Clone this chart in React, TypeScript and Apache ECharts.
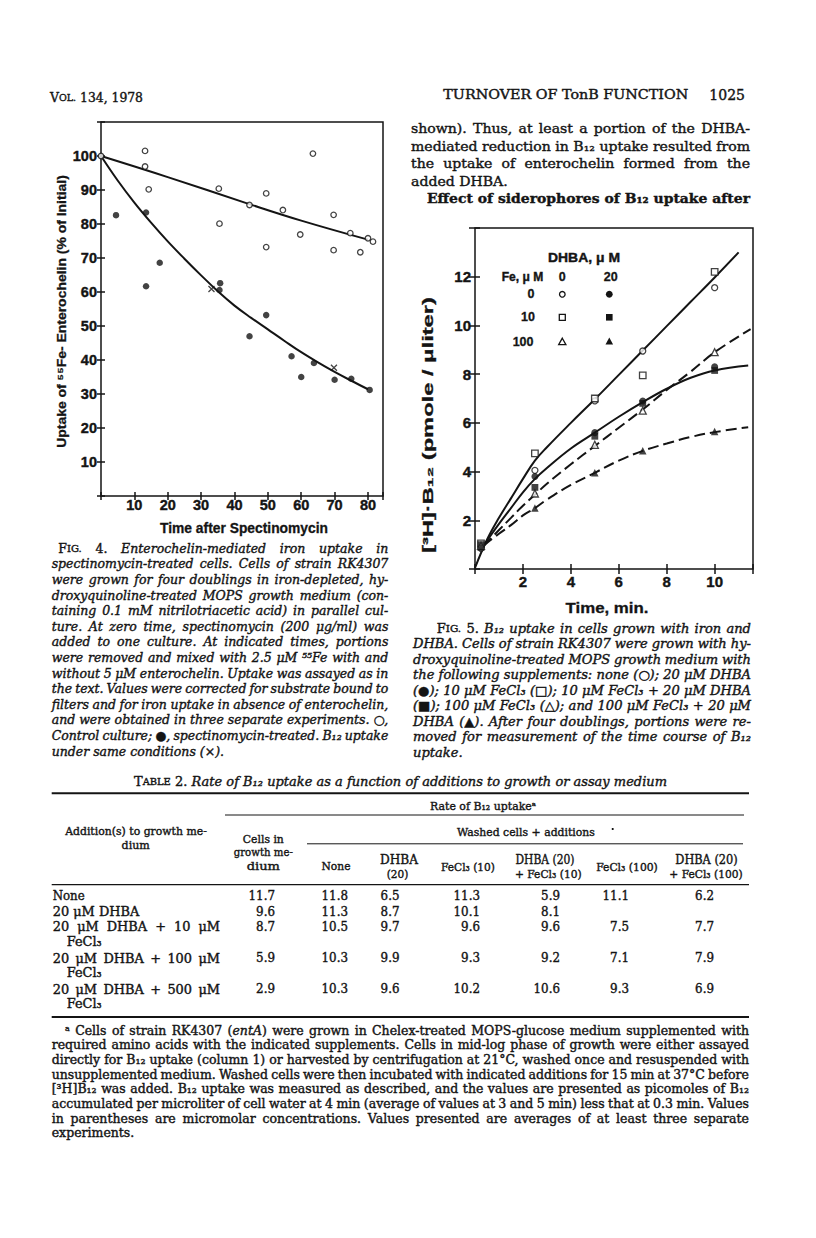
import React, { useEffect, useRef } from "react";
import * as echarts from "echarts";

const INK = "#141414";
const SERIF = "'DejaVu Serif', serif";
const SANS = "'Liberation Sans', Arial, sans-serif";

// ---------------- Fig. 4 data ----------------
const fig4XTicks = [10, 20, 30, 40, 50, 60, 70, 80];
const fig4YTicks = [10, 20, 30, 40, 50, 60, 70, 80, 90, 100];
const fig4ControlPoints = [
  [0, 100], [13.2, 101.5], [13.2, 96.9], [14.3, 90.2], [35.3, 90.4], [35.5, 80.1],
  [44.5, 85.6], [49.5, 89.0], [49.5, 73.2], [54.5, 84.1], [59.7, 76.9], [63.5, 100.7],
  [69.7, 82.7], [69.7, 72.3], [74.7, 77.3], [77.7, 71.7], [80.0, 75.8], [81.5, 74.8],
];
const fig4SpectinomycinPoints = [
  [4.5, 82.6], [13.5, 83.4], [13.5, 61.7], [17.6, 68.6], [35.7, 62.6], [35.5, 60.6],
  [44.5, 47.0], [49.5, 53.2], [57.1, 41.1], [60.0, 35.0], [63.8, 39.1], [70.0, 34.2],
  [75.0, 34.5], [80.5, 31.2],
];
const fig4B12Points = [[33.1, 60.9], [69.8, 37.7]];
const fig4ControlCurve = [[0, 100], [20, 93.8], [44, 86.0], [60, 81.0], [80, 75.4]];
const fig4SpectinomycinCurve = [
  [0, 100], [5, 92.8], [10, 86.3], [15, 80.4], [20, 74.9], [25, 69.8], [30, 64.9],
  [35, 60.2], [40, 56.0], [45, 52.4], [50, 49.0], [55, 45.6], [60, 42.3], [65, 39.3],
  [70, 36.5], [75, 33.9], [80, 31.4],
];

// ---------------- Fig. 5 data ----------------
const fig5XTicks = [2, 4, 6, 8, 10];
const fig5YTicks = [2, 4, 6, 8, 10, 12];
const fig5Times = [0.25, 2.5, 5, 7, 10];
const fig5None = [0.85, 4.05, 6.9, 8.95, 11.55];
const fig5Dhba20 = [0.9, 3.8, 5.6, 6.9, 8.3];
const fig5Fe10 = [1.05, 4.75, 7.0, 7.95, 12.2];
const fig5Fe10Dhba20 = [1.0, 3.35, 5.45, 6.8, 8.15];
const fig5Fe100 = [0.95, 3.1, 5.1, 6.5, 8.9];
const fig5Fe100Dhba20 = [0.9, 2.5, 3.95, 4.85, 5.65];
const fig5CurveNoneFe10 = [
  [0, 0.05], [0.5, 1.2], [1, 2.1], [1.5, 2.9], [2, 3.7], [2.5, 4.45], [3, 5.0], [4, 6.0],
  [5, 6.97], [6, 7.97], [7, 8.97], [8, 9.97], [9, 10.97], [10, 11.97], [11, 13.0],
];
const fig5CurveDhba = [
  [0.35, 0.95], [1, 1.85], [1.5, 2.5], [2, 3.15], [2.5, 3.7], [3, 4.15], [4, 4.95], [5, 5.6],
  [6, 6.25], [7, 6.85], [8, 7.4], [9, 7.85], [10, 8.15], [11.4, 8.35],
];
const fig5CurveFe100 = [
  [0.35, 0.95], [1, 1.6], [1.5, 2.1], [2, 2.6], [2.5, 3.05], [3, 3.5], [4, 4.3], [5, 5.05],
  [6, 5.8], [7, 6.55], [8, 7.35], [9, 8.1], [10, 8.9], [11.5, 9.85],
];
const fig5CurveFe100Dhba = [
  [0.35, 0.95], [1, 1.45], [1.5, 1.8], [2, 2.2], [2.5, 2.5], [3, 2.85], [4, 3.45], [5, 3.95],
  [6, 4.45], [7, 4.85], [8, 5.15], [9, 5.42], [10, 5.62], [11.4, 5.82],
];

// ---------------- Table 2 data ----------------
const tableRowLabels = ["None", "20 μM DHBA", "20 μM DHBA + 10 μM", "20 μM DHBA + 100 μM", "20 μM DHBA + 500 μM"];
const tableCellsInGrowth = ["11.7", "9.6", "8.7", "5.9", "2.9"];
const tableWashedNone = ["11.8", "11.3", "10.5", "10.3", "10.3"];
const tableWashedDhba = ["6.5", "8.7", "9.7", "9.9", "9.6"];
const tableWashedFe10 = ["11.3", "10.1", "9.6", "9.3", "10.2"];
const tableWashedDhbaFe10 = ["5.9", "8.1", "9.6", "9.2", "10.6"];
const tableWashedFe100 = ["11.1", "", "7.5", "7.1", "9.3"];
const tableWashedDhbaFe100 = ["6.2", "", "7.7", "7.9", "6.9"];

// ---------------- text helpers ----------------
type Seg = { t: string; f: string };
const f = (size: number, o: { i?: boolean; b?: boolean; fam?: string } = {}) =>
  `${o.i ? "italic " : ""}${o.b ? "bold " : ""}${size}px ${o.fam ?? SERIF}`;

let _ctx: CanvasRenderingContext2D | null = null;
function tw(text: string, font: string): number {
  if (!_ctx) _ctx = document.createElement("canvas").getContext("2d");
  _ctx!.font = font;
  return _ctx!.measureText(text).width;
}

function txt(text: string, x: number, y: number, font: string, o: { s?: number; align?: string; rot?: number; sw?: number } = {}) {
  const align = o.align ?? "left";
  return {
    type: "text",
    x,
    y,
    rotation: o.rot ?? 0,
    scaleX: o.s ?? 1,
    silent: true,
    z: 100,
    style: {
      text,
      font,
      fill: INK,
      stroke: INK,
      lineWidth: o.sw ?? 0.4,
      textAlign: align,
      textVerticalAlign: "middle",
      align,
      verticalAlign: "middle",
    },
  };
}

function buildWords(segs: Seg[]): Seg[][] {
  const words: Seg[][] = [];
  let cur: Seg[] = [];
  segs.forEach((seg) => {
    seg.t.split(" ").forEach((p, i) => {
      if (i > 0) {
        if (cur.length) words.push(cur);
        cur = [];
      }
      if (p) cur.push({ t: p, f: seg.f });
    });
  });
  if (cur.length) words.push(cur);
  return words;
}

function natWidth(segs: Seg[]): number {
  const words = buildWords(segs);
  const sp = tw(" ", segs[segs.length - 1].f);
  const sum = words.reduce((a, w) => a + w.reduce((b, p) => b + tw(p.t, p.f), 0), 0);
  return sum + sp * (words.length - 1);
}

function layLine(
  segs: Seg[],
  x: number,
  y: number,
  o: { mode: "fit" | "justify" | "natural"; w?: number; s?: number; align?: "left" | "center" | "right" }
) {
  const words = buildWords(segs);
  const ww = words.map((wd) => wd.reduce((a, p) => a + tw(p.t, p.f), 0));
  const sp = tw(" ", segs[segs.length - 1].f);
  const sumW = ww.reduce((a, b) => a + b, 0);
  const nat = sumW + sp * (words.length - 1);
  let s = o.s ?? 1;
  let gap = sp * s;
  if (o.mode === "fit") {
    s = (o.w as number) / nat;
    gap = sp * s;
  } else if (o.mode === "justify" && words.length > 1) {
    const minNat = sumW + sp * 0.6 * (words.length - 1);
    if (minNat * s > (o.w as number)) s = (o.w as number) / minNat;
    gap = ((o.w as number) - sumW * s) / (words.length - 1);
  }
  const total = sumW * s + gap * (words.length - 1);
  let cx = x;
  if (o.align === "center") cx = x - total / 2;
  else if (o.align === "right") cx = x - total;
  const els: any[] = [];
  words.forEach((wd) => {
    wd.forEach((p) => {
      els.push(txt(p.t, cx, y, p.f, { s }));
      cx += tw(p.t, p.f) * s;
    });
    cx += gap;
  });
  return { els, s };
}

function paragraph(lines: Seg[][], x1: number, x: number, right: number, y0: number, dy: number, lastNatural = true, q = 0.4) {
  const ratios: number[] = [];
  lines.forEach((segs, i) => {
    if (lastNatural && i === lines.length - 1) return;
    ratios.push((right - (i === 0 ? x1 : x)) / natWidth(segs));
  });
  ratios.sort((a, b) => a - b);
  const s = ratios.length ? ratios[Math.floor((ratios.length - 1) * q)] : 1;
  const els: any[] = [];
  lines.forEach((segs, i) => {
    const lx = i === 0 ? x1 : x;
    const nat = lastNatural && i === lines.length - 1;
    els.push(...layLine(segs, lx, y0 + i * dy, { mode: nat ? "natural" : "justify", w: right - lx, s }).els);
  });
  return els;
}

function fitText(text: string, cx: number, cy: number, font: string, w: number, rot = 0) {
  return txt(text, cx, cy, font, { s: w / tw(text, font), align: "center", rot, sw: 0.3 });
}

// ---------------- page text ----------------
function buildGraphics() {
  const els: any[] = [];
  const capI = f(12.5, { i: true });
  const capR = f(12.5);
  const capSC = f(10);

  // running heads
  els.push(...layLine([{ t: "V", f: f(13) }, { t: "OL.", f: f(10) }, { t: " 134, 1978", f: f(13) }], 50, 97, { mode: "fit", w: 93 }).els);
  els.push(...layLine([{ t: "TURNOVER OF TonB FUNCTION", f: f(12.5) }], 443.3, 95, { mode: "fit", w: 245 }).els);
  els.push(...layLine([{ t: "1025", f: f(14) }], 709.3, 95, { mode: "fit", w: 35.7 }).els);

  // right column body
  const body = f(13.5);
  els.push(
    ...paragraph(
      [
        [{ t: "shown). Thus, at least a portion of the DHBA-", f: body }],
        [{ t: "mediated reduction in B₁₂ uptake resulted from", f: body }],
        [{ t: "the uptake of enterochelin formed from the", f: body }],
        [{ t: "added DHBA.", f: body }],
      ],
      411, 411, 750, 128.3, 17.5
    )
  );
  els.push(...layLine([{ t: "Effect of siderophores of B₁₂ uptake after", f: f(13.5, { b: true }) }], 427, 198.3, { mode: "fit", w: 323 }).els);

  // Fig. 4 caption
  const fig4Caption: Seg[][] = [
    [{ t: "F", f: capR }, { t: "IG.", f: capSC }, { t: " 4. ", f: capR }, { t: "Enterochelin-mediated iron uptake in", f: capI }],
    [{ t: "spectinomycin-treated cells. Cells of strain RK4307", f: capI }],
    [{ t: "were grown for four doublings in iron-depleted, hy-", f: capI }],
    [{ t: "droxyquinoline-treated MOPS growth medium (con-", f: capI }],
    [{ t: "taining 0.1 mM nitrilotriacetic acid) in parallel cul-", f: capI }],
    [{ t: "ture. At zero time, spectinomycin (200 μg/ml) was", f: capI }],
    [{ t: "added to one culture. At indicated times, portions", f: capI }],
    [{ t: "were removed and mixed with 2.5 μM ⁵⁵Fe with and", f: capI }],
    [{ t: "without 5 μM enterochelin. Uptake was assayed as in", f: capI }],
    [{ t: "the text. Values were corrected for substrate bound to", f: capI }],
    [{ t: "filters and for iron uptake in absence of enterochelin,", f: capI }],
    [{ t: "and were obtained in three separate experiments. ○,", f: capI }],
    [{ t: "Control culture; ●, spectinomycin-treated. B₁₂ uptake", f: capI }],
    [{ t: "under same conditions (×).", f: capI }],
  ];
  els.push(...paragraph(fig4Caption, 58.3, 51.7, 388.3, 548.3, 15.6));

  // Fig. 5 caption
  const fig5Caption: Seg[][] = [
    [{ t: "F", f: capR }, { t: "IG.", f: capSC }, { t: " 5. ", f: capR }, { t: "B₁₂ uptake in cells grown with iron and", f: capI }],
    [{ t: "DHBA. Cells of strain RK4307 were grown with hy-", f: capI }],
    [{ t: "droxyquinoline-treated MOPS growth medium with", f: capI }],
    [{ t: "the following supplements: none (○); 20 μM DHBA", f: capI }],
    [{ t: "(●); 10 μM FeCl₃ (□); 10 μM FeCl₃ + 20 μM DHBA", f: capI }],
    [{ t: "(■); 100 μM FeCl₃ (△); and 100 μM FeCl₃ + 20 μM", f: capI }],
    [{ t: "DHBA (▲). After four doublings, portions were re-", f: capI }],
    [{ t: "moved for measurement of the time course of B₁₂", f: capI }],
    [{ t: "uptake.", f: capI }],
  ];
  els.push(...paragraph(fig5Caption, 436.7, 413, 751, 628.3, 15.5));

  // axis titles
  els.push(fitText("Uptake of ⁵⁵Fe- Enterochelin (% of Initial)", 61.7, 311.5, f(13, { b: true, fam: SANS }), 273, Math.PI / 2));
  els.push(fitText("Time after Spectinomycin", 244, 528, f(14, { b: true, fam: SANS }), 168));
  els.push(fitText("[³H]·B₁₂ (pmole / μliter)", 428, 425, f(14.5, { b: true, fam: SANS }), 256, Math.PI / 2));
  els.push(fitText("Time, min.", 607, 608, f(15, { b: true, fam: SANS }), 83));

  // Fig. 5 key
  const keyF = f(12.5, { b: true, fam: SANS });
  els.push(...layLine([{ t: "DHBA,  μ M", f: keyF }], 548, 257.3, { mode: "fit", w: 72 }).els);
  els.push(...layLine([{ t: "Fe, μ M", f: keyF }], 501.7, 277.3, { mode: "fit", w: 41.6 }).els);
  els.push(txt("0", 562.3, 277.3, keyF, { align: "center", sw: 0.3 }));
  els.push(txt("20", 610.7, 277.3, keyF, { align: "center", sw: 0.3 }));
  els.push(txt("0", 534.5, 294.3, keyF, { align: "right", sw: 0.3 }));
  els.push(txt("10", 535, 317.3, keyF, { align: "right", sw: 0.3 }));
  els.push(txt("100", 533.5, 341.7, keyF, { align: "right", sw: 0.3 }));
  const open = { fill: "#fff", stroke: INK, lineWidth: 1.3 };
  const solid = { fill: INK };
  els.push({ type: "circle", z: 100, silent: true, shape: { cx: 562.3, cy: 294.3, r: 2.8 }, style: open });
  els.push({ type: "circle", z: 100, silent: true, shape: { cx: 609.3, cy: 294.3, r: 3.4 }, style: solid });
  els.push({ type: "rect", z: 100, silent: true, shape: { x: 559.3, y: 314.3, width: 6, height: 6 }, style: open });
  els.push({ type: "rect", z: 100, silent: true, shape: { x: 606, y: 314, width: 6.6, height: 6.6 }, style: solid });
  els.push({ type: "polygon", z: 100, silent: true, shape: { points: [[562.3, 338.2], [565.9, 344.6], [558.7, 344.6]] }, style: open });
  els.push({ type: "polygon", z: 100, silent: true, shape: { points: [[609.3, 337.6], [613.1, 344.6], [605.5, 344.6]] }, style: solid });

  // Table 2
  els.push(
    ...layLine(
      [
        { t: "T", f: f(12.5) },
        { t: "ABLE", f: f(9.5) },
        { t: " 2. ", f: f(12.5) },
        { t: "Rate of B₁₂ uptake as a function of additions to growth or assay medium", f: f(12.5, { i: true }) },
      ],
      134, 781.7, { mode: "fit", w: 533 }
    ).els
  );
  const rule = (x1: number, x2: number, y: number, lw: number) => ({
    type: "line", z: 100, silent: true, shape: { x1, y1: y, x2, y2: y }, style: { stroke: INK, lineWidth: lw },
  });
  els.push(rule(51.7, 749, 793.3, 2), rule(225, 744, 815, 1), rule(307, 743, 843.8, 1), rule(51.7, 749, 884.7, 1.3), rule(51.7, 749, 1017, 2));

  const hf = f(11.5);
  const head = (t: string, cx: number, y: number, w: number) => els.push(...layLine([{ t, f: hf }], cx, y, { mode: "fit", w, align: "center" }).els);
  head("Rate of B₁₂ uptakeᵃ", 483, 806, 106);
  head("Washed cells + additions", 526, 832.7, 138);
  els.push({ type: "circle", z: 100, silent: true, shape: { cx: 612.7, cy: 829, r: 1.1 }, style: solid });
  head("Addition(s) to growth me-", 136, 831.7, 141.7);
  head("dium", 135.7, 845, 28.3);
  head("Cells in", 263.3, 839.3, 41);
  head("growth me-", 263.3, 852.7, 59.3);
  head("dium", 263.3, 866.7, 33.3);
  head("None", 336, 866.7, 29);
  els.push(...layLine([{ t: "DHBA", f: f(12.5) }], 399, 860, { mode: "fit", w: 38, align: "center" }).els);
  head("(20)", 397.5, 874, 21.6);
  head("FeCl₃ (10)", 468, 867, 54);
  els.push(...layLine([{ t: "DHBA (20)", f: f(12) }], 545, 860, { mode: "fit", w: 59, align: "center" }).els);
  head("+ FeCl₃ (10)", 548.3, 874.3, 66.7);
  head("FeCl₃ (100)", 627, 867, 61.7);
  els.push(...layLine([{ t: "DHBA (20)", f: f(12) }], 706.5, 860, { mode: "fit", w: 62.4, align: "center" }).els);
  head("+ FeCl₃ (100)", 706, 874, 73.4);

  const rowY = [896, 911.7, 926.7, 958.3, 989.3];
  const rf = f(12.5);
  els.push(...layLine([{ t: tableRowLabels[0], f: rf }], 52.7, rowY[0], { mode: "fit", w: 32 }).els);
  const r2 = layLine([{ t: tableRowLabels[1], f: rf }], 52.7, rowY[1], { mode: "fit", w: 86.6 });
  els.push(...r2.els);
  for (let i = 2; i < 5; i++) {
    els.push(...layLine([{ t: tableRowLabels[i], f: rf }], 52.7, rowY[i], { mode: "justify", w: 167.3, s: r2.s }).els);
    els.push(...layLine([{ t: "FeCl₃", f: rf }], 66.7, rowY[i] + 14.5, { mode: "natural", s: r2.s }).els);
  }
  const cols = [tableCellsInGrowth, tableWashedNone, tableWashedDhba, tableWashedFe10, tableWashedDhbaFe10, tableWashedFe100, tableWashedDhbaFe100];
  const colRight = [275, 348, 399.5, 480, 560, 629, 714];
  const vf = f(12.5);
  cols.forEach((col, c) =>
    col.forEach((v, r) => {
      if (v) els.push(txt(v, colRight[c], rowY[r], vf, { align: "right", s: 0.95 }));
    })
  );

  // footnote
  const fn = f(12);
  const fnI = f(12, { i: true });
  const footnote: Seg[][] = [
    [{ t: "ᵃ Cells of strain RK4307 (", f: fn }, { t: "entA", f: fnI }, { t: ") were grown in Chelex-treated MOPS-glucose medium supplemented with", f: fn }],
    [{ t: "required amino acids with the indicated supplements. Cells in mid-log phase of growth were either assayed", f: fn }],
    [{ t: "directly for B₁₂ uptake (column 1) or harvested by centrifugation at 21°C, washed once and resuspended with", f: fn }],
    [{ t: "unsupplemented medium. Washed cells were then incubated with indicated additions for 15 min at 37°C before", f: fn }],
    [{ t: "[³H]B₁₂ was added. B₁₂ uptake was measured as described, and the values are presented as picomoles of B₁₂", f: fn }],
    [{ t: "accumulated per microliter of cell water at 4 min (average of values at 3 and 5 min) less that at 0.3 min. Values", f: fn }],
    [{ t: "in parentheses are micromolar concentrations. Values presented are averages of at least three separate", f: fn }],
    [{ t: "experiments.", f: fn }],
  ];
  els.push(...paragraph(footnote, 65, 51.7, 749, 1030.7, 14.65));

  return els;
}

// ---------------- chart option ----------------
function tickLabel(ticks: number[]) {
  return (v: number) => {
    const r = Math.round(v);
    return Math.abs(v - r) < 1e-6 && ticks.includes(r) ? String(r) : "";
  };
}

function buildOption() {
  const tick = (len: number) => ({ show: true, inside: true, length: len, lineStyle: { color: INK, width: 1.5 } });
  const lab = (size: number, margin: number, ticks: number[]) => ({
    show: true,
    fontFamily: SANS,
    fontWeight: "bold",
    fontSize: size,
    color: INK,
    textBorderColor: INK,
    textBorderWidth: 0.4,
    margin,
    formatter: tickLabel(ticks),
  });
  const noLab = { show: false };
  const base = { type: "value", axisLine: { show: false }, splitLine: { show: false } };
  const zip = (xs: number[], ys: number[]) => xs.map((x, i) => [x, ys[i]]);
  const openStyle = { color: "#fff", borderColor: INK, borderWidth: 1.3 };
  const fillStyle = { color: INK, borderColor: INK, borderWidth: 0 };
  const lineS = (data: number[][], xi: number, yi: number, dashed: boolean) => ({
    type: "line",
    xAxisIndex: xi,
    yAxisIndex: yi,
    data,
    smooth: 0.4,
    showSymbol: false,
    symbol: "none",
    silent: true,
    lineStyle: { color: INK, width: 2, type: dashed ? [11, 5] : "solid" },
    z: 2,
  });
  const scat = (data: number[][], xi: number, yi: number, symbol: string, size: number, style: any) => ({
    type: "scatter",
    xAxisIndex: xi,
    yAxisIndex: yi,
    data,
    symbol,
    symbolSize: size,
    itemStyle: style,
    silent: true,
    z: 5,
  });

  return {
    animation: false,
    backgroundColor: "#ffffff",
    grid: [
      { left: 101, top: 122, width: 282, height: 374, show: true, borderColor: INK, borderWidth: 1.5, backgroundColor: "transparent" },
      { left: 475, top: 228, width: 278, height: 341, show: true, borderColor: INK, borderWidth: 1.5, backgroundColor: "transparent" },
    ],
    xAxis: [
      { ...base, gridIndex: 0, min: 0, max: 84.5, interval: 10, position: "bottom", axisTick: tick(4), axisLabel: lab(14.5, 1, fig4XTicks) },
      { ...base, gridIndex: 0, min: 0, max: 84.5, interval: 10, position: "top", axisTick: tick(4), axisLabel: noLab },
      { ...base, gridIndex: 1, min: 0, max: 11.6, interval: 2, position: "bottom", axisTick: tick(5), axisLabel: lab(15, 5, fig5XTicks) },
      { ...base, gridIndex: 1, min: 0, max: 11.6, interval: 2, position: "top", axisTick: tick(5), axisLabel: noLab },
    ],
    yAxis: [
      { ...base, gridIndex: 0, min: 0, max: 110, interval: 10, position: "left", axisTick: tick(4), axisLabel: lab(14.5, 4, fig4YTicks) },
      { ...base, gridIndex: 0, min: 0, max: 110, interval: 10, position: "right", axisTick: tick(4), axisLabel: noLab },
      { ...base, gridIndex: 1, min: 0, max: 14, interval: 2, position: "left", axisTick: tick(5), axisLabel: lab(15, 4, fig5YTicks) },
      { ...base, gridIndex: 1, min: 0, max: 14, interval: 2, position: "right", axisTick: tick(6), axisLabel: noLab },
    ],
    series: [
      lineS(fig4ControlCurve, 0, 0, false),
      lineS(fig4SpectinomycinCurve, 0, 0, false),
      scat(fig4ControlPoints, 0, 0, "circle", 5.5, openStyle),
      scat(fig4SpectinomycinPoints, 0, 0, "circle", 6.5, fillStyle),
      scat(fig4B12Points, 0, 0, "path://M0,0L10,10M10,0L0,10", 6, { color: "transparent", borderColor: INK, borderWidth: 1.3 }),

      lineS(fig5CurveNoneFe10, 2, 2, false),
      lineS(fig5CurveDhba, 2, 2, false),
      lineS(fig5CurveFe100, 2, 2, true),
      lineS(fig5CurveFe100Dhba, 2, 2, true),
      scat(zip(fig5Times, fig5None), 2, 2, "circle", 6, openStyle),
      scat(zip(fig5Times, fig5Dhba20), 2, 2, "circle", 7, fillStyle),
      scat(zip(fig5Times, fig5Fe10), 2, 2, "rect", 6.5, openStyle),
      scat(zip(fig5Times, fig5Fe10Dhba20), 2, 2, "rect", 6.8, fillStyle),
      scat(zip(fig5Times, fig5Fe100), 2, 2, "triangle", 7, openStyle),
      scat(zip(fig5Times, fig5Fe100Dhba20), 2, 2, "triangle", 7.5, fillStyle),
    ],
    graphic: buildGraphics(),
  };
}

export default function App() {
  const ref = useRef<HTMLDivElement>(null);
  useEffect(() => {
    const chart = echarts.init(ref.current as HTMLDivElement, null, { renderer: "svg" });
    chart.setOption(buildOption() as any);
    return () => chart.dispose();
  }, []);
  return (
    <div
      ref={ref}
      style={{ position: "absolute", left: 0, top: 0, width: 816, height: 1238, background: "#fff" }}
    />
  );
}
